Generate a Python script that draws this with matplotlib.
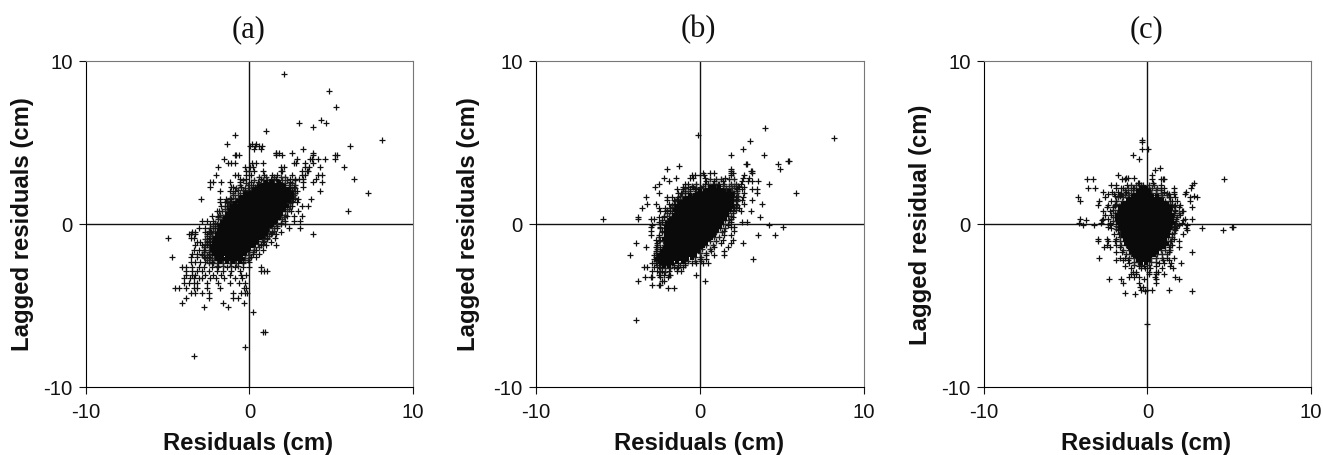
import matplotlib
matplotlib.use("Agg")
import matplotlib.pyplot as plt

plt.rcParams["axes.unicode_minus"] = False

# values, y: [x, x, ...]
sparse_a = {
    9.25: [2.1], 8.15: [4.85], 7.2: [5.3], 6.4: [4.35], 6.2: [3.05, 4.7], 6.0: [3.9], 5.75: [1.0],
    5.5: [-0.87], 5.2: [8.1], 4.95: [-1.4, 0.15, 0.4], 4.8: [0.05, 0.35, 0.6, 0.75, 6.15],
    4.65: [3.3, 0.3, 0.7], 4.4: [1.6, 1.8, 2.6, 3.9, 1.65], 4.25: [-0.9, -0.8, -0.65, 1.65, 2.0, 3.9, 5.25, 5.35],
    4.0: [-1.55, 3.85, 4.2, 4.6, 5.2, 3.7, 2.9], 3.75: [-1.3, -1.15, -0.9, 0.15, 0.4, 0.8, 2.7, 2.85, 3.4, 3.9],
    3.5: [-1.95, -0.25, 0.05, 0.2, 1.9, 2.1, 3.4, 3.65, 4.3, 5.8], 3.3: [-0.2, 0.0, 0.3, 0.85, 1.9, 2.0, 3.2, 3.5, 3.6],
    3.05: [-2.05, -0.9, -0.7, -0.2, 0.1, 0.9, 1.4, 1.7, 2.6, 3.2, 3.4, 4.2, 4.4],
    2.8: [-0.55, -0.2, 0.7, 1.3, 1.6, 2.5, 2.8, 3.0, 3.3, 4.05, 6.4], 2.6: [-2.4, -2.2, -1.75, -1.2, -0.6, 0.1, 0.5, 1.2, 1.8, 2.5, 3.3, 3.9, 4.4],
    2.3: [-2.4, -1.15, -1.0, -0.5, 0.2, 0.35, 0.6, 2.45, 2.7, 3.3], 2.05: [-1.8, -1.2, -0.9, -0.3, 0.0, 0.3, 2.6, 2.9, 4.3],
    1.9: [7.25], 1.55: [-2.95, -1.8, -1.45, -1.1, 2.65, 2.95, 3.75], 1.35: [-1.8, -1.5, -1.2, 2.6, 2.9], 1.1: [-1.75, -1.4, 2.6, 3.2, 3.6],
    0.8: [6.0, -2.0, -1.85, 2.55, 2.95], 0.5: [-2.3, -1.9, 2.3, 2.7, 3.2], 0.2: [-2.9, -2.6, -2.2, 2.15, 2.7, 3.1], 0.0: [-2.4, -2.0, 1.9, 2.2],
    -0.2: [-3.1, -2.7, -2.4, -2.1, 1.7, 2.4, 3.1], -0.45: [-3.5, -3.3, -2.7, -2.35, 1.4, 1.9], -0.6: [-3.7, -3.55, -3.3, -2.6, 3.9, 1.3, 1.6],
    -0.85: [-5.0, -3.6, -3.4, -2.5, -2.25, 1.1, 1.55], -1.1: [-3.2, -3.0, -2.6, -2.4, 0.85, 1.3], -1.3: [-3.3, -2.9, -2.6, 0.7, 1.0, 1.6],
    -1.55: [-3.4, -3.1, -2.75, 0.4, 0.8], -1.8: [-3.5, -3.2, -2.9, -2.5, 0.2, 0.6], -2.0: [-4.7, -3.6, -3.2, -2.8, -2.5, 0.1, 0.4],
    -2.3: [-3.6, -3.3, -3.0, -2.7, -2.3, -0.4, 0.0], -2.6: [-4.1, -3.9, -3.5, -3.1, -2.8, -2.3, -1.9, -1.4, -0.9, -0.4, 0.0, 0.7],
    -2.85: [-3.9, -3.5, -3.2, -2.9, -2.5, -2.0, -1.6, -1.1, -0.6, 0.7, 0.9, 1.05], -3.1: [-3.9, -3.5, -3.3, -2.7, -2.2, -1.75, -1.2, -0.5, -0.2],
    -3.3: [-4.0, -3.65, -3.4, -3.1, -2.9, -2.4, -2.05, -1.55, -0.9, -0.45], -3.6: [-4.0, -3.7, -3.4, -3.2, -2.6, -1.9, -1.2, -0.65, -0.3],
    -3.9: [-4.55, -4.3, -3.9, -3.4, -3.2, -2.6, -1.8, -0.2, -0.35], -4.2: [-3.6, -3.3, -2.9, -2.5, -0.5, -0.3, -0.15, -1.0],
    -4.5: [-3.9, -2.5, -1.0, -0.7], -4.8: [-4.1, -1.6, -0.35], -5.1: [-2.8, -1.3], -5.35: [0.2], -6.6: [0.85, 0.95], -7.55: [-0.25], -8.1: [-3.4],
}
dense_a = {
    2.9: [0.6, 1.0, 1.5, 1.9, 2.2], 2.7: [-0.4, 0.3, 0.8, 1.1, 1.5, 2.0, 2.3, 2.8], 2.55: [-0.2, 0.6, 1.0, 1.4, 2.2, 2.6],
    2.4: [-0.6, -0.1, 0.2, 0.5, 0.8, 2.1, 2.4, 2.8], 2.25: [-0.8, -0.3, 0.1, 0.4, 2.2, 2.5, 2.8], 2.1: [-0.7, -0.4, -0.1, 0.25, 2.3, 2.6],
    1.95: [-1.0, -0.6, -0.2, 0.1, 2.5, 2.8], 1.8: [-1.0, -0.7, -0.4, -0.1, 2.5, 2.7], 1.6: [-1.2, -0.9, -0.6, 2.55, 2.8],
    1.45: [-1.4, -1.1, -0.8, 2.3, 2.6], 1.3: [-1.3, -1.0, -0.75, 2.35, 2.5], 1.1: [-1.5, -1.25, -1.0, 2.3, 2.5], 0.95: [-1.5, -1.3, 2.15, 2.4],
    0.8: [-1.7, -1.4, -1.2, 2.0, 2.3], 0.6: [-1.8, -1.5, 1.95, 2.2], 0.45: [-1.9, -1.6, -1.45, 1.8, 2.1], 0.3: [-1.95, -1.7, 1.7, 2.0],
    0.1: [-2.1, -1.8, -1.65, 1.6, 1.9], -0.1: [-2.2, -1.9, 1.35, 1.7], -0.25: [-2.4, -2.1, -1.85, 1.2, 1.5], -0.4: [-2.5, -2.2, -1.95, 1.15, 1.5],
    -0.55: [-2.4, -2.1, 1.05, 1.35], -0.7: [-2.6, -2.3, -2.05, 0.95, 1.2], -0.9: [-2.7, -2.4, -2.15, 0.75, 1.1], -1.05: [-2.6, -2.3, 0.55, 0.9],
    -1.2: [-2.7, -2.45, -2.25, 0.5, 0.8], -1.4: [-2.8, -2.5, -2.3, 0.25, 0.6], -1.55: [-2.7, -2.4, 0.0, 0.3], -1.7: [-2.8, -2.5, -2.3, -0.1, 0.2],
    -1.9: [-2.9, -2.6, -2.3, -0.3, 0.0], -2.05: [-2.7, -2.4, -2.15, -0.3, -0.05], -2.2: [-2.6, -2.3, -2.0, -1.7, -1.3, -0.9, -0.4, -0.1],
    -2.4: [-2.5, -2.2, -1.9, -1.6, -1.2, -0.8, -0.4], -2.55: [-2.0, -1.6, -1.1, -0.7],
}
solid_a = {
    2.4: [1.0, 1.4, 1.8], 2.15: [0.6, 0.9, 1.2, 1.5, 1.8, 2.1], 1.9: [0.3, 0.6, 0.9, 1.2, 1.5, 1.8, 2.1, 2.4],
    1.65: [-0.3, 0.0, 0.3, 0.6, 0.9, 1.2, 1.5, 1.8, 2.1, 2.4], 1.4: [-0.5, -0.2, 0.1, 0.4, 0.7, 1.0, 1.3, 1.6, 1.9, 2.2],
    1.15: [-0.9, -0.6, -0.3, 0.0, 0.3, 0.6, 0.9, 1.2, 1.5, 1.8, 2.1], 0.9: [-1.0, -0.7, -0.4, -0.1, 0.2, 0.5, 0.8, 1.1, 1.4, 1.7, 1.95],
    0.65: [-1.2, -0.9, -0.6, -0.3, 0.0, 0.3, 0.6, 0.9, 1.2, 1.5, 1.75], 0.4: [-1.3, -1.0, -0.7, -0.4, -0.1, 0.2, 0.5, 0.8, 1.1, 1.4, 1.6],
    0.15: [-1.5, -1.2, -0.9, -0.6, -0.3, 0.0, 0.3, 0.6, 0.9, 1.2, 1.4], -0.1: [-1.6, -1.3, -1.0, -0.7, -0.4, -0.1, 0.2, 0.5, 0.8, 1.1],
    -0.35: [-1.7, -1.4, -1.1, -0.8, -0.5, -0.2, 0.1, 0.4, 0.7, 0.9], -0.6: [-1.8, -1.5, -1.2, -0.9, -0.6, -0.3, 0.0, 0.3, 0.6, 0.8],
    -0.85: [-1.9, -1.6, -1.3, -1.0, -0.7, -0.4, -0.1, 0.2, 0.45], -1.1: [-2.0, -1.7, -1.4, -1.1, -0.8, -0.5, -0.2, 0.1, 0.3],
    -1.35: [-2.1, -1.8, -1.5, -1.2, -0.9, -0.6, -0.3, 0.0], -1.6: [-2.1, -1.8, -1.5, -1.2, -0.9, -0.6, -0.3], -1.85: [-2.0, -1.7, -1.4, -1.1, -0.8, -0.5],
    -2.1: [-1.8, -1.4, -1.0, -0.6],
}

sparse_b = {
    5.9: [4.0], 5.45: [-0.1], 5.3: [8.2], 5.1: [3.05], 4.65: [2.65], 4.25: [1.9, 3.9], 3.9: [5.4, 5.45], 3.7: [2.85, 2.9, 4.8],
    3.55: [-1.25], 3.4: [-2.0, 1.9, 4.9], 3.3: [1.9, 3.15, 3.2], 3.15: [0.2, 0.6, 0.85, 1.9, 2.0, 3.2], 3.0: [-0.5, -0.3, 0.0, 0.25, 2.7, 1.9],
    2.85: [-2.2, -1.45, -0.6, -0.4, 0.3, 1.55, 2.65, 3.0], 2.65: [-1.9, 0.4, 0.85, 1.4, 2.55, 2.95, 3.2, 3.55], 2.5: [-2.5, -0.9, -0.7, 0.3, 0.9, 1.2, 2.5, 4.25],
    2.3: [-2.75, -1.05, -0.7, -0.4, 0.0, 2.4, 2.7], 2.15: [-1.4, -1.0, -0.6, -0.3, 2.3, 2.6, 3.2, 3.5], 1.9: [-2.5, -1.3, -1.15, -0.9, 2.1, 2.7, 3.5, 5.85],
    1.7: [-3.3, -2.0, -1.7, -1.3, 2.2, 2.65], 1.5: [-2.0, -1.6, -1.4, 2.2, 2.6, 3.2], 1.25: [-3.2, -2.7, -1.9, -1.55, 2.2, 2.7, 3.8],
    1.0: [-3.55, -2.5, -2.1, -1.8, 2.1, 2.4], 0.8: [-2.4, -2.1, -1.8, 2.0, 2.5, 3.15], 0.45: [-3.75, -2.5, -2.2, 3.65, 2.0],
    0.35: [-5.9, -3.75, -3.0, -2.8, 1.9], 0.15: [-2.5, -2.3, 1.9, 2.6, 2.9], -0.05: [-2.9, -2.1, 1.7, 4.25], -0.15: [-2.95, -2.4, 1.9, 2.1, 5.1],
    -0.4: [-2.95, -2.3, 1.5, 2.1], -0.65: [-3.0, -2.5, 1.5, 3.55, 4.6, 1.9], -0.95: [-2.7, -2.4, 1.4, 2.0], -1.15: [-3.9, -2.6, 1.3, 2.65, 1.9],
    -1.4: [-3.3, -2.7, -2.4, 0.9, 1.7], -1.65: [-2.7, -2.4, 0.7, 1.5], -1.9: [-4.25, -2.8, -2.5, 0.4, 0.9, 1.5], -2.1: [-2.8, -2.6, 0.0, 0.4, 3.25],
    -2.4: [-2.9, -2.7, -2.4, -1.7, -1.3, -0.9, -0.5, -0.2, 0.2, 0.5], -2.65: [-3.4, -3.2, -2.8, -2.5, -1.6, -1.3, -1.0], -2.85: [-2.9, -2.6, -2.3, -1.9, -1.4, -1.15],
    -3.1: [-2.5, -2.2, -1.9, -1.8, -0.2], -3.25: [-3.35, -2.95, -2.9, -2.45, -1.95], -3.5: [-3.8, -2.3, -2.2, 0.35], -3.7: [-2.9, -2.5, -2.45],
    -3.9: [-1.95, -1.6], -5.85: [-3.9],
}
dense_b = {
    2.75: [0.6, 1.0, 1.3, 1.8, 2.1], 2.5: [-0.2, 0.5, 0.8, 1.1, 1.5, 1.9, 2.2], 2.35: [-0.5, 0.2, 0.6, 1.0, 1.4, 1.8, 2.1, 2.35],
    2.2: [-0.9, -0.2, 0.1, 0.35, 1.6, 1.95, 2.2], 2.05: [-0.9, -0.6, -0.2, 0.2, 1.5, 1.9, 2.3], 1.9: [-1.1, -0.7, -0.3, 2.0, 2.3],
    1.75: [-1.2, -0.9, -0.5, 2.05, 2.35], 1.55: [-1.4, -1.1, -0.8, 2.05, 2.3], 1.4: [-1.5, -1.2, 2.0, 2.3], 1.2: [-1.7, -1.4, 2.05, 2.3],
    1.05: [-1.7, -1.45, 2.0, 2.2], 0.9: [-2.0, -1.6, 1.85, 2.2], 0.7: [-2.0, -1.7, 1.7, 2.0], 0.5: [-2.2, -1.9, -1.65, 1.7, 1.9],
    0.25: [-2.3, -2.0, -1.8, 1.55, 1.8], 0.0: [-2.4, -2.1, -2.0, 1.4, 1.7], -0.25: [-2.4, -2.15, 1.25, 1.55], -0.5: [-2.3, -2.1, 1.0, 1.35],
    -0.75: [-2.5, -2.2, 0.9, 1.2], -1.0: [-2.5, -2.25, 0.65, 1.0], -1.25: [-2.6, -2.2, 0.4, 0.8], -1.5: [-2.6, -2.3, -2.1, 0.15, 0.6],
    -1.75: [-2.7, -2.4, 0.0, 0.4], -2.0: [-2.7, -2.4, -0.3, 0.1], -2.25: [-2.7, -2.4, -0.7, -0.3, 0.1], -2.5: [-2.6, -2.3, -2.0, -1.6, -1.2, -0.9],
    -2.7: [-2.4, -2.1, -1.8, -1.4], -2.95: [-2.4, -2.1],
}
solid_b = {
    2.1: [0.6, 0.9, 1.2], 1.85: [0.0, 0.3, 0.6, 0.9, 1.2, 1.5, 1.8], 1.6: [-0.6, -0.3, 0.0, 0.3, 0.6, 0.9, 1.2, 1.5, 1.8],
    1.35: [-0.9, -0.6, -0.3, 0.0, 0.3, 0.6, 0.9, 1.2, 1.5, 1.8], 1.1: [-1.2, -0.9, -0.6, -0.3, 0.0, 0.3, 0.6, 0.9, 1.2, 1.5, 1.8],
    0.85: [-1.3, -1.0, -0.7, -0.4, -0.1, 0.2, 0.5, 0.8, 1.1, 1.4, 1.65], 0.6: [-1.4, -1.1, -0.8, -0.5, -0.2, 0.1, 0.4, 0.7, 1.0, 1.3, 1.5],
    0.35: [-1.6, -1.3, -1.0, -0.7, -0.4, -0.1, 0.2, 0.5, 0.8, 1.1, 1.35], 0.1: [-1.8, -1.5, -1.2, -0.9, -0.6, -0.3, 0.0, 0.3, 0.6, 0.9, 1.2],
    -0.15: [-1.9, -1.6, -1.3, -1.0, -0.7, -0.4, -0.1, 0.2, 0.5, 0.8, 1.05], -0.4: [-1.9, -1.6, -1.3, -1.0, -0.7, -0.4, -0.1, 0.2, 0.5, 0.8],
    -0.65: [-1.9, -1.6, -1.3, -1.0, -0.7, -0.4, -0.1, 0.2, 0.5, 0.7], -0.9: [-2.0, -1.7, -1.4, -1.1, -0.8, -0.5, -0.2, 0.1, 0.4],
    -1.15: [-1.9, -1.6, -1.3, -1.0, -0.7, -0.4, -0.1, 0.2], -1.4: [-1.9, -1.6, -1.3, -1.0, -0.7, -0.4, -0.1], -1.65: [-2.1, -1.8, -1.5, -1.2, -0.9, -0.6, -0.3],
    -1.9: [-2.3, -2.0, -1.7, -1.4, -1.1, -0.8, -0.5], -2.15: [-2.4, -2.1, -1.8, -1.4, -1.0], -2.4: [-2.2, -1.9],
}

sparse_c = {
    5.15: [-0.35], 5.05: [-0.35], 4.6: [-0.35, 0.05], 4.25: [-0.9], 4.0: [-0.5], 3.45: [0.75], 3.35: [0.45], 3.0: [0.3, -1.8],
    2.85: [-1.3, -1.2, -0.85], 2.8: [-3.7, -1.4, 0.95, 4.65], 2.75: [-3.3, -1.55, 0.25, 0.85, 1.0], 2.55: [-0.6, -0.5, 0.35, 2.85],
    2.4: [-2.2, -1.95, -1.25, -0.25, 0.85, 2.7], 2.25: [-3.2, -1.9, -1.6, -0.3, 0.8, 1.0, 1.65, 2.65], 2.2: [-3.65, -1.5, -0.9, 0.0],
    2.0: [-2.7, -2.15, -1.8, -1.3, 1.0, 1.6, 2.35], 1.85: [-2.4, -2.05, -1.6, 1.3, 1.65, 2.3], 1.75: [-2.0, -1.7, 2.85],
    1.65: [-4.25, -2.6, 1.4, 1.7, 2.6, 3.0], 1.4: [-4.1, -2.95, -2.2, -1.9, 1.5, 1.8, 2.6], 1.2: [-3.0, -2.4, -2.0, 1.7, 2.0],
    1.05: [-2.5, -2.1, 1.5, 1.9, 2.75], 0.8: [-2.7, -2.3, 1.7, 2.1, 2.2], 0.55: [-2.6, -2.2, 1.6, 2.0], 0.35: [-4.1, -2.7, -2.4, 1.75, 2.3, 2.75],
    0.25: [-3.75, -2.8, 2.2], 0.1: [-4.2, -2.85, -2.3, 1.7, 2.1], -0.05: [-3.95, -3.25, -2.3, 1.9, 2.4], -0.15: [-2.4, -1.8, 1.6, 5.15, 5.25],
    -0.25: [-2.2, 3.35, 1.75, 2.35], -0.35: [-1.8, 1.7, 2.4, 4.6], -0.6: [-2.05, -1.75, 1.5, 2.2], -0.9: [-3.0, -2.5, -1.9, 1.6],
    -1.05: [-3.0, -2.4, -2.0, 1.45, 1.9], -1.25: [-2.5, -1.95, 1.5], -1.4: [-2.65, -2.3, -1.7, 1.3, 1.9], -1.7: [-1.9, -1.55, 1.3, 2.75],
    -2.05: [-2.95, -1.7, -1.35, 1.2, 1.6], -2.2: [-1.9, -1.5, -1.2, 0.95, 1.3], -2.35: [-1.15, 0.7, 1.0, 1.45, 2.05], -2.55: [-1.4, -0.5, -0.2, 0.5, 1.4],
    -2.7: [-1.0, -0.4, -0.15, 0.15, 0.9, 1.55], -2.9: [-0.9, -0.7, 0.1, 0.5, 0.65], -3.05: [-1.0, -0.7, 0.1, 0.5, 1.0], -3.25: [-1.1, -0.8, -0.5, 0.45, 1.7],
    -3.35: [-2.35, -1.6, -0.2, 1.95, 0.5], -3.6: [-1.5, -0.5, 0.5], -3.85: [-0.45, -0.3], -4.0: [-0.4, 0.3, -0.05], -4.05: [1.3], -4.1: [2.75, -0.15],
    -4.2: [-1.35], -4.3: [-0.75], -6.1: [0.0],
}
dense_c = {
    2.4: [-1.0, -0.7, -0.4, 0.1, 0.4], 2.25: [-1.2, -0.8, -0.5, 0.0, 0.3, 0.6], 2.1: [-1.4, -1.0, -0.7, 0.15, 0.5, 0.8],
    1.95: [-1.6, -1.2, -0.9, 0.2, 0.5, 0.8, 1.2], 1.8: [-1.7, -1.4, -1.1, -0.85, 0.3, 0.6, 0.9, 1.2], 1.65: [-1.8, -1.5, -1.2, 0.65, 0.9, 1.3],
    1.45: [-1.9, -1.55, -1.25, 0.8, 1.1, 1.4], 1.25: [-1.9, -1.6, -1.4, 1.1, 1.4], 1.1: [-2.0, -1.75, 1.4, 1.6], 0.9: [-2.1, -1.8, 1.4, 1.7],
    0.7: [-2.0, -1.85, 1.4, 1.6, 1.9], 0.45: [-2.1, -1.9, 1.5, 1.8], 0.2: [-2.1, -1.95, 1.5, 1.75], -0.1: [-1.95, -1.75, 1.5, 1.8],
    -0.3: [-1.9, -1.7, 1.35, 1.6], -0.55: [-1.7, -1.5, 1.25, 1.6], -0.8: [-1.7, -1.5, 1.25, 1.5], -1.05: [-1.7, -1.4, 1.15, 1.4],
    -1.3: [-1.6, -1.3, 1.1, 1.35], -1.55: [-1.5, -1.1, 0.8, 1.1, 1.4], -1.8: [-1.3, -1.0, 0.6, 0.9, 1.2], -2.05: [-1.1, -0.8, 0.2, 0.5, 0.9],
    -2.3: [-0.8, -0.6, 0.2, 0.5], -2.5: [-0.8, -0.4, 0.1],
}
solid_c = {
    2.05: [-0.4, -0.1], 1.8: [-0.6, -0.3, 0.0], 1.55: [-0.9, -0.6, -0.3, 0.0, 0.3, 0.6], 1.3: [-1.2, -0.9, -0.6, -0.3, 0.0, 0.3, 0.6, 0.9],
    1.05: [-1.5, -1.2, -0.9, -0.6, -0.3, 0.0, 0.3, 0.6, 0.9, 1.2], 0.8: [-1.5, -1.2, -0.9, -0.6, -0.3, 0.0, 0.3, 0.6, 0.9, 1.2],
    0.55: [-1.7, -1.4, -1.1, -0.8, -0.5, -0.2, 0.1, 0.4, 0.7, 1.0, 1.3], 0.3: [-1.7, -1.4, -1.1, -0.8, -0.5, -0.2, 0.1, 0.4, 0.7, 1.0, 1.3],
    0.05: [-1.6, -1.3, -1.0, -0.7, -0.4, -0.1, 0.2, 0.5, 0.8, 1.1, 1.35], -0.2: [-1.5, -1.2, -0.9, -0.6, -0.3, 0.0, 0.3, 0.6, 0.9, 1.2],
    -0.45: [-1.3, -1.0, -0.7, -0.4, -0.1, 0.2, 0.5, 0.8, 1.1], -0.7: [-1.3, -1.0, -0.7, -0.4, -0.1, 0.2, 0.5, 0.8, 1.1],
    -0.95: [-1.2, -0.9, -0.6, -0.3, 0.0, 0.3, 0.6, 0.9], -1.2: [-1.1, -0.8, -0.5, -0.2, 0.1, 0.4, 0.7, 1.0], -1.45: [-0.9, -0.6, -0.3, 0.0, 0.3, 0.6],
    -1.7: [-0.8, -0.5, -0.2, 0.1, 0.4], -1.95: [-0.6, -0.3, 0.0], -2.2: [-0.4, -0.1],
}

panels = ["(a)", "(b)", "(c)"]
sparse = [sparse_a, sparse_b, sparse_c]
dense = [dense_a, dense_b, dense_c]
solid = [solid_a, solid_b, solid_c]
ylabels = ["Lagged residuals (cm)", "Lagged residuals (cm)", "Lagged residual (cm)"]
xlabel = "Residuals (cm)"
ticks = [-10, 0, 10]

W, H = 1323, 455
lefts = [85.7, 536.0, 983.7]
ylabel_x = [-0.194, -0.207, -0.192]
ink = "#111111"


def flatten(rows):
    xs, ys = [], []
    for y, row in rows.items():
        for x in row:
            xs.append(x)
            ys.append(y)
    return xs, ys


fig = plt.figure(figsize=(W / 100, H / 100), dpi=100)
for i in range(3):
    ax = fig.add_axes([lefts[i] / W, 1 - 387.3 / H, 327.5 / W, 326 / H])
    ax.set_xlim(-10, 10)
    ax.set_ylim(-10, 10)
    ax.axhline(0, color=ink, lw=1)
    ax.axvline(0, color=ink, lw=1)
    x, y = flatten(dense[i])
    ax.plot(x, y, "+", color="#222222", ms=4.5, mew=1.0)
    x, y = flatten(sparse[i])
    ax.plot(x, y, "+", color=ink, ms=4.5, mew=0.9)
    # the dark middle of each cloud is saturated, heavier marks stand in for it
    x, y = flatten(solid[i])
    ax.plot(x, y, "+", color="#0a0a0a", ms=6.5, mew=2.9)
    ax.set_xticks(ticks)
    ax.set_yticks(ticks)
    ax.tick_params(length=5, width=0.8, labelsize=14.7, color=ink, labelcolor=ink)
    ax.tick_params(axis="x", pad=6)
    ax.tick_params(axis="y", pad=4.5)
    for lab in ax.get_xticklabels() + ax.get_yticklabels():
        lab.set_family("Liberation Sans")
    for s in ["top", "right"]:
        ax.spines[s].set_color("#777777")
    ax.set_xlabel(xlabel, family="Liberation Sans", weight="bold", fontsize=17.2, va="center", color=ink)
    ax.xaxis.set_label_coords(0.497, -0.171)
    ax.set_ylabel(ylabels[i], family="Liberation Sans", weight="bold", fontsize=17.2, va="center", color=ink)
    ax.yaxis.set_label_coords(ylabel_x[i], 0.5)
    ax.text(0.497, 1.097, panels[i], transform=ax.transAxes, family="Liberation Serif",
            fontsize=22, ha="center", va="center", color=ink)

fig.savefig("out.png", dpi=100)
